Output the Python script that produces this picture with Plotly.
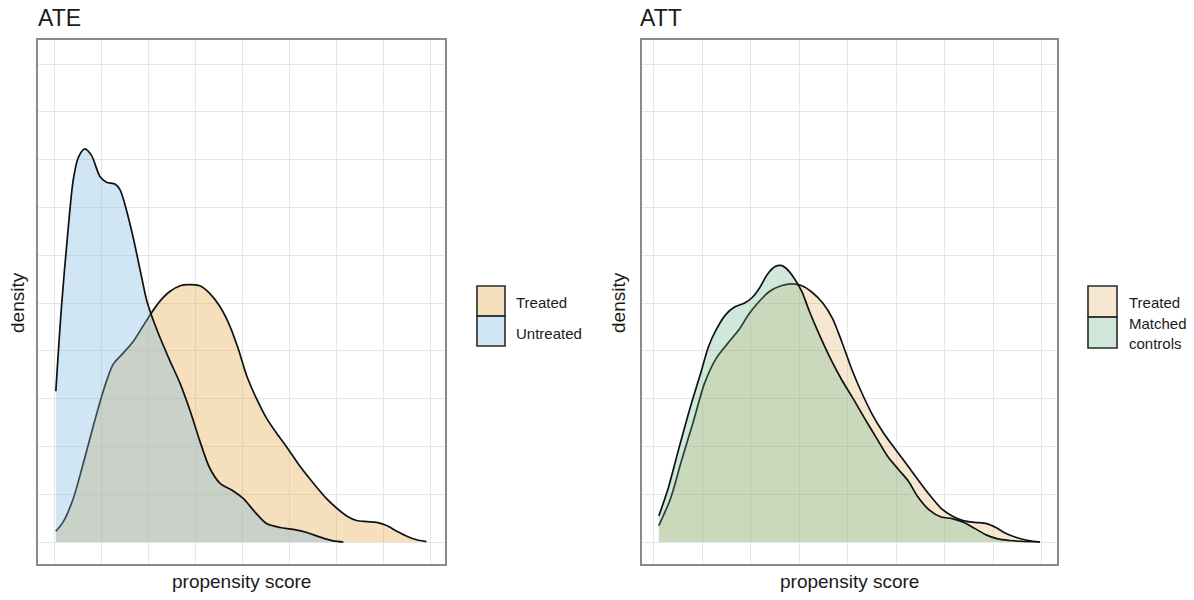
import plotly.graph_objects as go

# ---- ATE panel: propensity score densities ----
ate_treated_x = [0.002, 0.018, 0.039, 0.060, 0.082, 0.103, 0.124, 0.146, 0.167, 0.188,
                 0.206, 0.224, 0.245, 0.267, 0.284, 0.309, 0.330, 0.352, 0.373, 0.391,
                 0.409, 0.430, 0.451, 0.473, 0.494, 0.522, 0.551, 0.579, 0.601, 0.622,
                 0.643, 0.665, 0.686, 0.707, 0.729, 0.750, 0.771, 0.792]
ate_treated_y = [0.112, 0.213, 0.453, 0.814, 1.216, 1.577, 1.858, 1.978, 2.098, 2.259,
                 2.399, 2.520, 2.620, 2.680, 2.692, 2.680, 2.600, 2.460, 2.259, 2.018,
                 1.737, 1.497, 1.296, 1.135, 0.995, 0.794, 0.614, 0.453, 0.353, 0.273,
                 0.225, 0.213, 0.205, 0.172, 0.112, 0.060, 0.024, 0.004]

ate_untreated_x = [0.002, 0.014, 0.028, 0.039, 0.050, 0.064, 0.078, 0.096, 0.110, 0.128,
                   0.139, 0.153, 0.167, 0.181, 0.195, 0.204, 0.224, 0.245, 0.267, 0.288,
                   0.309, 0.330, 0.352, 0.380, 0.402, 0.423, 0.451, 0.480, 0.508, 0.537,
                   0.565, 0.593, 0.615]
ate_untreated_y = [1.577, 2.460, 3.262, 3.784, 4.024, 4.113, 4.044, 3.824, 3.764, 3.744,
                   3.683, 3.463, 3.182, 2.861, 2.540, 2.399, 2.139, 1.898, 1.657, 1.376,
                   1.055, 0.774, 0.614, 0.534, 0.453, 0.333, 0.193, 0.152, 0.132, 0.100,
                   0.052, 0.012, 0.000]

# ---- ATT panel: treated vs matched controls ----
att_treated_x = [0.010, 0.034, 0.057, 0.081, 0.104, 0.128, 0.152, 0.175, 0.195, 0.214,
                 0.238, 0.262, 0.285, 0.305, 0.324, 0.348, 0.368, 0.387, 0.407, 0.427,
                 0.450, 0.474, 0.497, 0.521, 0.544, 0.568, 0.592, 0.615, 0.639, 0.662,
                 0.686, 0.705, 0.725, 0.749, 0.772, 0.796]
att_treated_y = [0.172, 0.453, 0.855, 1.256, 1.657, 1.918, 2.078, 2.219, 2.379, 2.500,
                 2.620, 2.680, 2.700, 2.680, 2.620, 2.500, 2.339, 2.098, 1.818, 1.577,
                 1.336, 1.135, 0.975, 0.814, 0.654, 0.494, 0.353, 0.273, 0.221, 0.205,
                 0.193, 0.152, 0.092, 0.044, 0.016, 0.000]

att_control_x = [0.010, 0.030, 0.049, 0.073, 0.097, 0.112, 0.128, 0.148, 0.167, 0.187,
                 0.203, 0.218, 0.234, 0.250, 0.262, 0.273, 0.289, 0.305, 0.320, 0.340,
                 0.364, 0.387, 0.411, 0.434, 0.458, 0.482, 0.505, 0.525, 0.544, 0.568,
                 0.592, 0.615, 0.639, 0.662, 0.686, 0.709, 0.733, 0.756, 0.796]
att_control_y = [0.273, 0.574, 0.935, 1.376, 1.778, 2.038, 2.219, 2.379, 2.460, 2.500,
                 2.560, 2.660, 2.801, 2.881, 2.893, 2.861, 2.760, 2.620, 2.419, 2.179,
                 1.918, 1.697, 1.497, 1.296, 1.095, 0.895, 0.754, 0.634, 0.473, 0.333,
                 0.261, 0.245, 0.205, 0.140, 0.072, 0.032, 0.016, 0.008, 0.000]

x_grid = [0.0, 0.1, 0.2, 0.3, 0.4, 0.5, 0.6, 0.7, 0.8]
y_grid = [0.0, 0.5, 1.0, 1.5, 2.0, 2.5, 3.0, 3.5, 4.0, 4.5, 5.0]

# fill colours (with alpha) and outline colour
COL_TREATED_ATE = "rgba(226,164,64,0.35)"
COL_UNTREATED = "rgba(121,184,226,0.35)"
COL_TREATED_ATT = "rgba(225,178,98,0.30)"
COL_CONTROLS = "rgba(98,178,138,0.30)"
OUTLINE = "#111111"
FONT = "Liberation Sans, Arial, sans-serif"

W, H = 1194, 600


def px(x):
    return x / W


def py(y):
    return 1 - y / H


def density_trace(x, y, fill, xa, ya):
    return go.Scatter(
        x=x, y=y, mode="lines", fill="tozeroy", fillcolor=fill,
        line=dict(color=OUTLINE, width=1.7, shape="spline", smoothing=0.8),
        xaxis=xa, yaxis=ya, showlegend=False, hoverinfo="skip",
    )


fig = go.Figure()
fig.add_trace(density_trace(ate_treated_x, ate_treated_y, COL_TREATED_ATE, "x", "y"))
fig.add_trace(density_trace(ate_untreated_x, ate_untreated_y, COL_UNTREATED, "x", "y"))
fig.add_trace(density_trace(att_treated_x, att_treated_y, COL_TREATED_ATT, "x2", "y2"))
fig.add_trace(density_trace(att_control_x, att_control_y, COL_CONTROLS, "x2", "y2"))

axis_common = dict(
    showticklabels=False, ticks="", zeroline=False,
    showgrid=True, gridcolor="#e6e6e6", gridwidth=1.2,
    showline=True, mirror=True, linecolor="#8a8a8a", linewidth=1.5,
)

fig.update_layout(
    width=W, height=H,
    margin=dict(l=0, r=0, t=0, b=0),
    paper_bgcolor="white", plot_bgcolor="white",
    font=dict(family=FONT, color="#1a1a1a"),
    xaxis=dict(domain=[px(38), px(445)], range=[-0.036, 0.8315],
               tickvals=x_grid, anchor="y", **axis_common),
    yaxis=dict(domain=[py(564), py(40)], range=[-0.230, 5.251],
               tickvals=y_grid, anchor="x", **axis_common),
    xaxis2=dict(domain=[px(642), px(1057)], range=[-0.0247, 0.831],
                tickvals=x_grid, anchor="y2", **axis_common),
    yaxis2=dict(domain=[py(564), py(40)], range=[-0.230, 5.251],
                tickvals=y_grid, anchor="x2", **axis_common),
)

annotations = []
shapes = []


def text(x, y, s, size, anchor="left", angle=0):
    annotations.append(dict(
        x=px(x), y=py(y), xref="paper", yref="paper", text=s, showarrow=False,
        xanchor=anchor, yanchor="middle", textangle=angle, align="left",
        font=dict(size=size, family=FONT, color="#1a1a1a"),
    ))


# panel titles
text(36, 18, "ATE", 23)
text(638, 18, "ATT", 23)
# axis titles
text(241.5, 581, "propensity score", 19, anchor="center")
text(849.5, 581, "propensity score", 19, anchor="center")
text(17, 303, "density", 19, anchor="center", angle=-90)
text(618, 303, "density", 19, anchor="center", angle=-90)


def key(x0, y0, x1, y1, fill):
    shapes.append(dict(type="rect", xref="paper", yref="paper",
                       x0=px(x0), x1=px(x1), y0=py(y1), y1=py(y0),
                       fillcolor=fill, line=dict(color="#2a2a2a", width=1.6)))


# legend, ATE panel
key(477, 286, 505, 316, COL_TREATED_ATE)
key(477, 316, 505, 346, COL_UNTREATED)
text(514, 302, "Treated", 15)
text(514, 333, "Untreated", 15)

# legend, ATT panel
key(1088, 286, 1117, 317, COL_TREATED_ATT)
key(1088, 317, 1117, 348, COL_CONTROLS)
text(1127, 302, "Treated", 15)
text(1127, 333, "Matched<br>controls", 15)

fig.update_layout(annotations=annotations, shapes=shapes)

fig.write_html("out.html")
